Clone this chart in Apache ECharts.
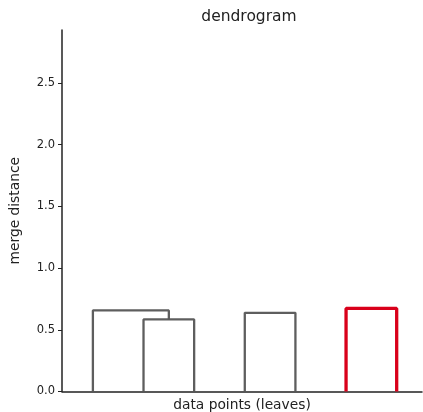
<!DOCTYPE html>
<html>
<head>
<meta charset="utf-8">
<script src="https://cdn.jsdelivr.net/npm/echarts@6/dist/echarts.min.js"></script>
<style>
  html, body { margin: 0; padding: 0; background: #fff; }
  #chart { width: 423px; height: 412px; }
</style>
</head>
<body>
<div id="chart"></div>
<script>
// link coordinates in the scipy style: leaves sit at 5, 15, 25, ...
const icoord = [
    [15, 15, 25, 25],
    [5, 5, 20, 20],
    [35, 35, 45, 45],
    [55, 55, 65, 65]
];
const dcoord = [
    [0, 0.584, 0.584, 0],
    [0, 0.657, 0.657, 0.584],
    [0, 0.638, 0.638, 0],
    [0, 0.673, 0.673, 0]
];
const linkColors = ['#555555', '#555555', '#555555', '#d9001b'];
const yTicks = [0, 0.5, 1.0, 1.5, 2.0, 2.5];

const chart = echarts.init(document.getElementById('chart'));

const series = icoord.map(function (xs, i) {
    return {
        type: 'line',
        symbol: 'none',
        silent: true,
        animation: false,
        lineStyle: {
            color: linkColors[i],
            width: i === 3 ? 3.3 : 2.3,
            opacity: i === 3 ? 1 : 0.95
        },
        data: xs.map(function (x, j) { return [x, dcoord[i][j]]; })
    };
});

chart.setOption({
    backgroundColor: '#fff',
    animation: false,
    textStyle: { fontFamily: 'DejaVu Sans' },
    title: {
        text: 'dendrogram',
        left: 244,
        top: 4,
        textAlign: 'center',
        textStyle: { fontSize: 15.5, fontWeight: 'normal', color: '#222', fontFamily: 'DejaVu Sans' }
    },
    grid: { left: 62, top: 30, right: 1, bottom: 20.5, containLabel: false, outerBoundsMode: 'none' },
    xAxis: {
        type: 'value',
        min: -1.1,
        max: 70,
        name: 'data points (leaves)',
        nameLocation: 'middle',
        nameGap: 7,
        nameTextStyle: { fontSize: 13.8, color: '#222', fontFamily: 'DejaVu Sans' },
        axisLine: { show: true, onZero: false, lineStyle: { color: '#222', width: 1.5 } },
        axisTick: { show: false },
        axisLabel: { show: false },
        splitLine: { show: false }
    },
    yAxis: {
        type: 'value',
        min: 0,
        max: 2.93,
        interval: 0.5,
        name: 'merge distance',
        nameLocation: 'middle',
        nameGap: 40,
        nameTextStyle: { fontSize: 13.8, color: '#222', fontFamily: 'DejaVu Sans' },
        axisLine: { show: true, onZero: false, lineStyle: { color: '#222', width: 1.5 } },
        axisTick: { show: true, length: 4, lineStyle: { color: '#222', width: 1 } },
        axisLabel: {
            fontSize: 11.5,
            color: '#222',
            margin: 7,
            showMaxLabel: false,
            formatter: function (v) {
                return yTicks.indexOf(Math.round(v * 10) / 10) >= 0 ? v.toFixed(1) : '';
            }
        },
        splitLine: { show: false }
    },
    series: series
});
</script>
</body>
</html>
